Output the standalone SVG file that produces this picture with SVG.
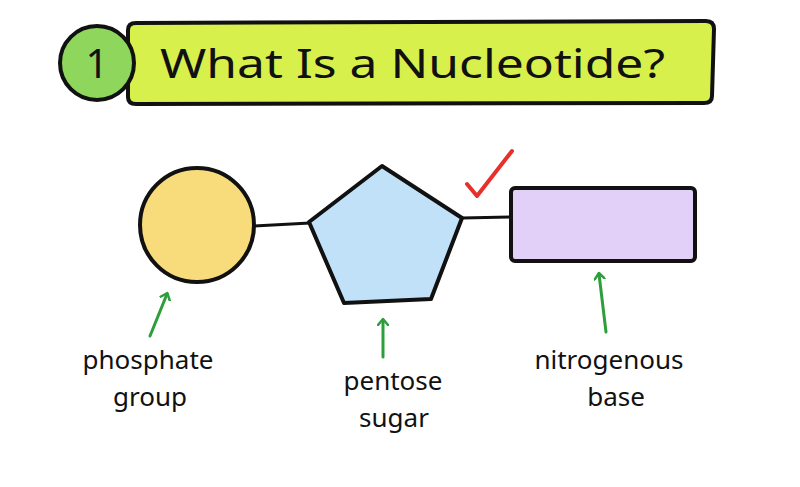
<svg xmlns="http://www.w3.org/2000/svg" width="800" height="487" viewBox="0 0 800 487">
  <defs>
    <style>
      .ink { stroke: #111; stroke-width: 4; stroke-linejoin: round; stroke-linecap: round; }
      .bond { stroke: #111; stroke-width: 3; fill: none; stroke-linecap: round; }
      .pointer { stroke: #2e9e3a; stroke-width: 3; fill: none; stroke-linecap: round; }
      .label { font-family: "Noto Sans", "DejaVu Sans", sans-serif; font-size: 26px; fill: #111; text-anchor: middle; }
      .title { font-family: "Noto Sans", "DejaVu Sans", sans-serif; font-size: 40px; fill: #111; }
    </style>
    <marker id="head" viewBox="0 0 12 12" refX="6" refY="6" markerWidth="12" markerHeight="12" markerUnits="userSpaceOnUse" orient="auto">
      <path d="M1,1 L7,6 L1,11" fill="none" stroke="#2e9e3a" stroke-width="2.5" stroke-linecap="round" stroke-linejoin="round"/>
    </marker>
  </defs>
  <rect width="800" height="487" fill="#ffffff"/>

  <!-- heading banner -->
  <g id="title">
    <path class="ink" d="M128,30 Q128,23 136,23 L706,21 Q714,21 714,29 L712,96 Q712,103 704,103 L136,104 Q128,104 128,97 Z" fill="#d8f04b"/>
    <circle class="ink" cx="97" cy="63" r="37" fill="#8fd75c"/>
    <text x="97" y="78" class="title" text-anchor="middle">1</text>
    <text x="160" y="78" class="title" textLength="505" lengthAdjust="spacingAndGlyphs">What Is a Nucleotide?</text>
  </g>

  <!-- bonds between the parts -->
  <g id="connectors">
    <path class="bond" d="M254,226 L310,223"/>
    <path class="bond" d="M462,218 L510,217"/>
    <path class="pointer" d="M150,336 L167,294" marker-end="url(#head)"/>
    <path class="pointer" d="M383,357 L383,320" marker-end="url(#head)"/>
    <path class="pointer" d="M606,332 L599,274" marker-end="url(#head)"/>
  </g>

  <g id="phosphate">
    <ellipse class="ink" cx="197" cy="225" rx="57" ry="57" fill="#f8dc7b"/>
    <text class="label" x="148" y="369">phosphate</text>
    <text class="label" x="150" y="406">group</text>
  </g>

  <g id="sugar">
    <path class="ink" d="M382,166 L462,218 L431,299 L344,303 L309,222 Z" fill="#c0e1f7"/>
    <text class="label" x="393" y="390">pentose</text>
    <text class="label" x="394" y="427">sugar</text>
  </g>

  <g id="base">
    <rect class="ink" x="511" y="188" width="184" height="73" rx="4" fill="#e3d0f8"/>
    <text class="label" x="609" y="369">nitrogenous</text>
    <text class="label" x="616" y="406">base</text>
  </g>

  <g id="check">
    <path d="M467,184 L477,196 L512,151" fill="none" stroke="#e8302b" stroke-width="4" stroke-linecap="round" stroke-linejoin="round"/>
  </g>
</svg>
